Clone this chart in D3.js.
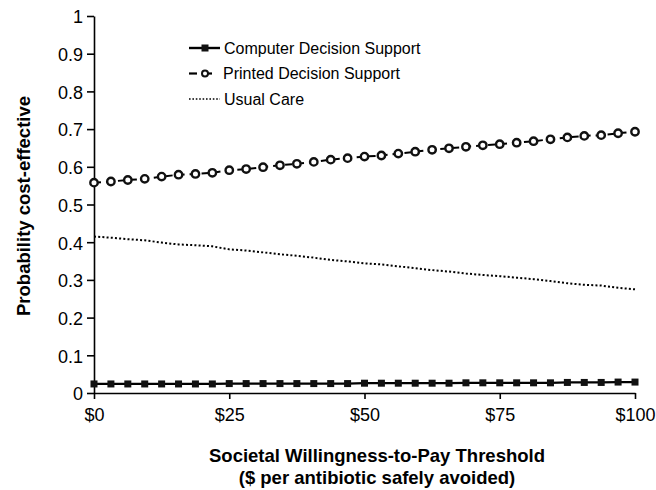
<!DOCTYPE html>
<html>
<head>
<meta charset="utf-8">
<script src="https://cdn.jsdelivr.net/npm/d3@7"></script>
<style>
  body { margin: 0; background: #fff; }
  text { font-family: "Liberation Sans", Arial, sans-serif; fill: #000; }
  .axisLabel { font-weight: bold; font-size: 18.5px; }
</style>
</head>
<body>
<div class="figure"></div>
<script>
// data, 33 points from $0 to $100
const thresholds = d3.range(33).map(i => i * 100 / 32);
const computer = [0.024,0.024,0.024,0.024,0.024,0.024,0.024,0.024,0.025,0.025,0.025,0.025,0.025,0.025,0.025,0.025,
  0.026,0.026,0.026,0.026,0.026,0.026,0.027,0.027,0.027,0.027,0.027,0.027,0.028,0.028,0.028,0.029,0.029];
const printed = [0.558,0.561,0.565,0.568,0.574,0.579,0.581,0.584,0.591,0.594,0.599,0.604,0.608,0.613,0.619,0.623,
  0.627,0.630,0.635,0.640,0.645,0.649,0.653,0.657,0.660,0.664,0.668,0.673,0.678,0.682,0.684,0.689,0.693];
const usualCare = [0.415,0.412,0.408,0.405,0.399,0.394,0.392,0.389,0.381,0.378,0.373,0.368,0.364,0.359,0.353,0.349,
  0.344,0.341,0.336,0.331,0.326,0.322,0.317,0.313,0.310,0.306,0.302,0.297,0.291,0.287,0.285,0.279,0.275];
const xTicks = [0, 25, 50, 75, 100];
const yTicks = [0, 0.1, 0.2, 0.3, 0.4, 0.5, 0.6, 0.7, 0.8, 0.9, 1];
const seriesNames = ['Computer Decision Support', 'Printed Decision Support', 'Usual Care'];

const svg = d3.select('.figure').append('svg')
  .attr('width', 656)
  .attr('height', 490);

const margin = {top: 16, right: 21, bottom: 97, left: 94};
const width = 656 - margin.left - margin.right;
const height = 490 - margin.top - margin.bottom;

const graph = svg.append('g')
  .attr('transform', `translate(${margin.left}, ${margin.top})`);

const x = d3.scaleLinear().domain([0, 100]).range([0, width]);
const y = d3.scaleLinear().domain([0, 1]).range([height, 0]);

// axes
const xAxis = d3.axisBottom(x).tickValues(xTicks).tickSize(6).tickSizeOuter(0)
  .tickFormat(d => '$' + d);
const yAxis = d3.axisLeft(y).tickValues(yTicks).tickSize(7).tickPadding(4).tickSizeOuter(0)
  .tickFormat(d => d === 0 || d === 1 ? d : d.toFixed(1));

const xAxisGroup = graph.append('g')
  .attr('transform', `translate(0, ${height})`)
  .call(xAxis);
const yAxisGroup = graph.append('g').call(yAxis);

[xAxisGroup, yAxisGroup].forEach(g => {
  g.selectAll('path, line').attr('stroke', '#000').attr('stroke-width', 1.6);
  g.selectAll('text').attr('font-size', '18px').attr('fill', '#000')
    .attr('font-family', '"Liberation Sans", Arial, sans-serif');
});
xAxisGroup.selectAll('text').attr('y', 15.5).attr('dy', '0.71em');
yAxisGroup.selectAll('text').attr('dy', '0.38em');

// axis titles
svg.append('text')
  .attr('class', 'axisLabel')
  .attr('transform', 'rotate(-90)')
  .attr('x', -206)
  .attr('y', 29.5)
  .attr('text-anchor', 'middle')
  .text('Probability cost-effective');

const xTitle = svg.append('text')
  .attr('class', 'axisLabel')
  .attr('text-anchor', 'middle');
xTitle.append('tspan').attr('x', 377).attr('y', 462)
  .text('Societal Willingness-to-Pay Threshold');
xTitle.append('tspan').attr('x', 377).attr('y', 484)
  .text('($ per antibiotic safely avoided)');

// lines
const line = d3.line().x((d, i) => x(thresholds[i])).y(d => y(d));

graph.append('path').datum(usualCare)
  .attr('d', line)
  .attr('fill', 'none')
  .attr('stroke', '#000')
  .attr('stroke-width', 2)
  .attr('stroke-dasharray', '2,2.2');

graph.append('path').datum(printed)
  .attr('d', line)
  .attr('fill', 'none')
  .attr('stroke', '#000')
  .attr('stroke-width', 2)
  .attr('stroke-dasharray', '7,5');

graph.append('path').datum(computer)
  .attr('d', line)
  .attr('fill', 'none')
  .attr('stroke', '#000')
  .attr('stroke-width', 2.2);

// markers
graph.selectAll('rect.cds')
  .data(computer)
  .enter().append('rect')
    .attr('class', 'cds')
    .attr('x', (d, i) => x(thresholds[i]) - 3.5)
    .attr('y', d => y(d) - 3.5)
    .attr('width', 7)
    .attr('height', 7)
    .attr('fill', '#111');

graph.selectAll('circle.pds')
  .data(printed)
  .enter().append('circle')
    .attr('class', 'pds')
    .attr('cx', (d, i) => x(thresholds[i]))
    .attr('cy', d => y(d))
    .attr('r', 3.7)
    .attr('fill', '#fff')
    .attr('stroke', '#111')
    .attr('stroke-width', 2.4);

// legend
const legend = svg.append('g').attr('transform', 'translate(189, 48)');
const rowGap = 25.5;
seriesNames.forEach((name, i) => {
  const row = legend.append('g').attr('transform', `translate(0, ${i * rowGap})`);
  if (i === 0) {
    row.append('line').attr('x1', 0).attr('x2', 31).attr('y1', 0).attr('y2', 0)
      .attr('stroke', '#000').attr('stroke-width', 2.4);
    row.append('rect').attr('x', 12.5).attr('y', -3.5).attr('width', 7).attr('height', 7).attr('fill', '#111');
  } else if (i === 1) {
    row.append('line').attr('x1', 0).attr('x2', 8).attr('y1', 0).attr('y2', 0)
      .attr('stroke', '#000').attr('stroke-width', 2.2);
    row.append('line').attr('x1', 16).attr('x2', 23).attr('y1', 0).attr('y2', 0)
      .attr('stroke', '#000').attr('stroke-width', 2.2);
    row.append('circle').attr('cx', 16).attr('cy', 0).attr('r', 3)
      .attr('fill', '#fff').attr('stroke', '#111').attr('stroke-width', 2);
  } else {
    row.append('line').attr('x1', 0).attr('x2', 31).attr('y1', 0).attr('y2', 0)
      .attr('stroke', '#000').attr('stroke-width', 1.6).attr('stroke-dasharray', '1.6,1.8');
  }
  row.append('text')
    .attr('x', i === 1 ? 34 : 35)
    .attr('y', 0)
    .attr('dy', '0.35em')
    .attr('font-size', '16px')
    .text(name);
});
</script>
</body>
</html>
